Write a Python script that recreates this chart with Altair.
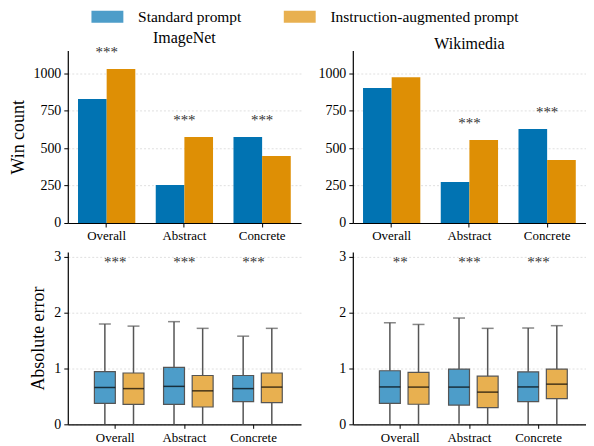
import altair as alt
import pandas as pd

# ---------------- data ----------------
categories = ["Overall", "Abstract", "Concrete"]
prompts = ["Standard prompt", "Instruction-augmented prompt"]

imagenet_standard = [827, 253, 573]
imagenet_augmented = [1027, 573, 447]
wikimedia_standard = [900, 273, 627]
wikimedia_augmented = [973, 553, 420]

imagenet_bar_stars = ["***", "***", "***"]
imagenet_bar_star_y = [1140, 690, 690]
wikimedia_bar_stars = ["", "***", "***"]
wikimedia_bar_star_y = [1090, 667, 740]

# box statistics (whisker low, q1, median, q3, whisker high)
imagenet_std_lo = [0.0, 0.0, 0.0]
imagenet_std_q1 = [0.375, 0.357, 0.405]
imagenet_std_med = [0.66, 0.68, 0.64]
imagenet_std_q3 = [0.946, 1.02, 0.875]
imagenet_std_hi = [1.80, 1.84, 1.58]

imagenet_aug_lo = [0.0, 0.0, 0.0]
imagenet_aug_q1 = [0.357, 0.31, 0.39]
imagenet_aug_med = [0.64, 0.60, 0.667]
imagenet_aug_q3 = [0.92, 0.875, 0.92]
imagenet_aug_hi = [1.76, 1.72, 1.72]

wikimedia_std_lo = [0.0, 0.01, 0.0]
wikimedia_std_q1 = [0.375, 0.345, 0.405]
wikimedia_std_med = [0.67, 0.667, 0.67]
wikimedia_std_q3 = [0.96, 0.99, 0.94]
wikimedia_std_hi = [1.82, 1.905, 1.726]

wikimedia_aug_lo = [0.0, 0.0, 0.0]
wikimedia_aug_q1 = [0.36, 0.298, 0.46]
wikimedia_aug_med = [0.667, 0.577, 0.72]
wikimedia_aug_q3 = [0.93, 0.863, 0.99]
wikimedia_aug_hi = [1.79, 1.72, 1.768]

imagenet_box_stars = ["***", "***", "***"]
wikimedia_box_stars = ["**", "***", "***"]
box_star_y = [2.9, 2.9, 2.9]

# ---------------- styling ----------------
FONT = "Liberation Serif"
COLORS = ["#0173B2", "#DE8F05"]
W, H = 234, 173

color_enc = alt.Color(
    "prompt:N",
    scale=alt.Scale(domain=prompts, range=COLORS),
    legend=alt.Legend(
        title=None,
        orient="none",
        legendX=32,
        legendY=-42,
        direction="horizontal",
        symbolType="M-2.667,-1H2.667V1H-2.667Z",
        symbolSize=144,
        symbolOpacity=0.7,
        symbolStrokeWidth=0,
        labelFont=FONT,
        labelFontSize=15.5,
        labelColor="black",
        labelOffset=23,
        labelLimit=400,
        columnPadding=41,
        padding=0,
    ),
)


def xaxis():
    return alt.Axis(title=None, labelAngle=0, labelFont=FONT, labelFontSize=13,
                    labelColor="black", grid=False)


def yaxis(values, ytitle, pad):
    kw = dict(values=values, grid=True, format="d", labelFont=FONT,
              labelFontSize=14, labelColor="black", titleFont=FONT,
              titleFontSize=18, titleFontWeight="normal", titlePadding=pad)
    if ytitle is None:
        return alt.Axis(title=None, minExtent=35, maxExtent=35, **kw)
    return alt.Axis(title=ytitle, **kw)


def bar_panel(std, aug, stars, star_y, title, ytitle):
    df = pd.DataFrame({
        "category": categories * 2,
        "prompt": [prompts[0]] * 3 + [prompts[1]] * 3,
        "value": list(std) + list(aug),
    })
    sdf = pd.DataFrame({"category": categories, "stars": stars, "y": star_y})
    xs = alt.Scale(domain=categories, paddingInner=0.263, paddingOuter=0.1315)
    ys = alt.Scale(domain=[0, 1150], nice=False)
    bars = alt.Chart(df).mark_bar().encode(
        x=alt.X("category:N", scale=xs, sort=categories, axis=xaxis()),
        xOffset=alt.XOffset("prompt:N", sort=prompts),
        y=alt.Y("value:Q", scale=ys,
                axis=yaxis([0, 250, 500, 750, 1000], ytitle, 5)),
        color=color_enc,
    )
    txt = alt.Chart(sdf).mark_text(font=FONT, fontSize=15, baseline="middle",
                                   color="#333").encode(
        x=alt.X("category:N", scale=xs, sort=categories),
        y=alt.Y("y:Q", scale=ys),
        text="stars:N",
    )
    return alt.layer(bars, txt).properties(
        width=W, height=H,
        title=alt.TitleParams(title, font=FONT, fontSize=16, fontWeight="normal",
                              offset=-1, frame="group", color="black"),
    )


def box_panel(lo, q1, med, q3, hi, lo2, q12, med2, q32, hi2, stars, ytitle):
    df = pd.DataFrame({
        "category": categories * 2,
        "prompt": [prompts[0]] * 3 + [prompts[1]] * 3,
        "lo": list(lo) + list(lo2),
        "q1": list(q1) + list(q12),
        "med": list(med) + list(med2),
        "q3": list(q3) + list(q32),
        "hi": list(hi) + list(hi2),
    })
    sdf = pd.DataFrame({"category": categories, "stars": stars, "y": box_star_y})
    xs = alt.Scale(domain=categories, paddingInner=0.2857, paddingOuter=0.329)
    ys = alt.Scale(domain=[0, 3.09], nice=False)
    x_enc = alt.X("category:N", scale=xs, sort=categories, axis=xaxis())
    xo = alt.XOffset("prompt:N", sort=prompts)
    base = alt.Chart(df)
    wl = base.mark_rule(color="#555", strokeWidth=1.5).encode(
        x=x_enc, xOffset=xo,
        y=alt.Y("lo:Q", scale=ys, axis=yaxis([0, 1, 2, 3], ytitle, 6)),
        y2="q1:Q")
    wh = base.mark_rule(color="#555", strokeWidth=1.5).encode(
        x=x_enc, xOffset=xo, y=alt.Y("q3:Q", scale=ys), y2="hi:Q")
    box = base.mark_bar(size=21, fillOpacity=0.7, stroke="#555",
                        strokeWidth=1.2).encode(
        x=x_enc, xOffset=xo, y=alt.Y("q1:Q", scale=ys), y2="q3:Q",
        color=color_enc)
    medt = base.mark_tick(size=21, thickness=1.5, color="black").encode(
        x=x_enc, xOffset=xo, y=alt.Y("med:Q", scale=ys))
    cap = base.mark_tick(size=12, thickness=1.5, color="#555").encode(
        x=x_enc, xOffset=xo, y=alt.Y("hi:Q", scale=ys))
    txt = alt.Chart(sdf).mark_text(font=FONT, fontSize=15, baseline="middle",
                                   color="#333").encode(
        x=alt.X("category:N", scale=xs, sort=categories),
        y=alt.Y("y:Q", scale=ys),
        text="stars:N",
    )
    return alt.layer(wl, wh, box, medt, cap, txt).properties(width=W, height=H)


tl = bar_panel(imagenet_standard, imagenet_augmented, imagenet_bar_stars,
               imagenet_bar_star_y, "ImageNet", "Win count")
tr = bar_panel(wikimedia_standard, wikimedia_augmented, wikimedia_bar_stars,
               wikimedia_bar_star_y, "Wikimedia", None)
bl = box_panel(imagenet_std_lo, imagenet_std_q1, imagenet_std_med, imagenet_std_q3,
               imagenet_std_hi, imagenet_aug_lo, imagenet_aug_q1, imagenet_aug_med,
               imagenet_aug_q3, imagenet_aug_hi, imagenet_box_stars, "Absolute error")
br = box_panel(wikimedia_std_lo, wikimedia_std_q1, wikimedia_std_med, wikimedia_std_q3,
               wikimedia_std_hi, wikimedia_aug_lo, wikimedia_aug_q1, wikimedia_aug_med,
               wikimedia_aug_q3, wikimedia_aug_hi, wikimedia_box_stars, None)

chart = alt.concat(tl, tr, bl, br, columns=2,
                   spacing={"row": 7, "column": 17}).resolve_scale(
    color="shared"
).properties(
    padding={"left": 2, "top": 0, "right": 0, "bottom": 0}
).configure_view(stroke=None).configure_axis(
    labelFont=FONT, titleFont=FONT, labelColor="black", titleColor="black",
    domainColor="black", domainWidth=1.2, tickColor="black", tickSize=4,
    tickWidth=1, gridColor="#d8d8d8", gridDash=[2, 2], gridWidth=0.8,
    titleFontWeight="normal", titleFontSize=18, labelPadding=3,
).configure_axisX(grid=False)

chart.save("out.html", embed_options={"renderer": "svg", "actions": False})
